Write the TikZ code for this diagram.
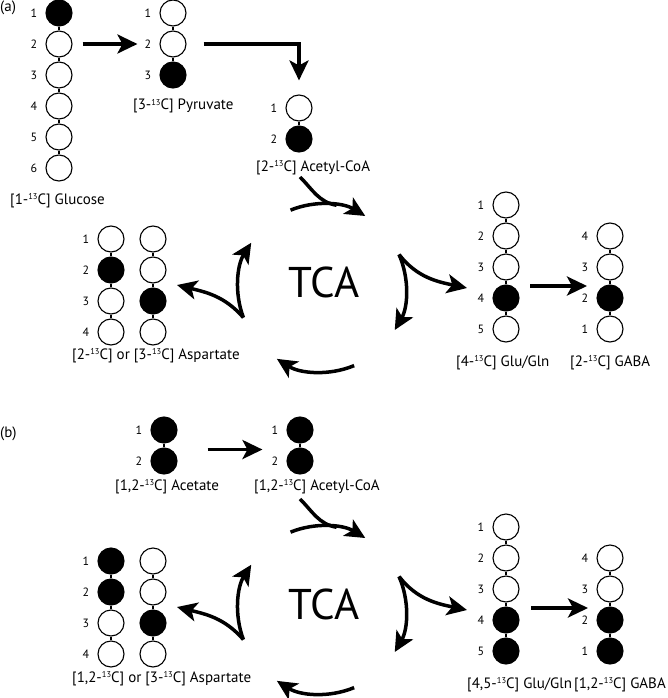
\documentclass[tikz,border=0pt]{standalone}
\usepackage{fontspec}
\setmainfont{PT Sans}
\usetikzlibrary{arrows.meta,calc}
\newcommand\isot{\raisebox{0.62ex}{\fontsize{8.5}{8.5}\selectfont 13}}
\newcommand\tcacycle[2]{%
 \begin{scope}[shift={(322,#2)}, x=1pt, y=1pt]
  \node[tcatext] (#1tca) at (2,6) {TCA};
  \coordinate (#1t0) at (112:84);
  \coordinate (#1t1) at (59:84);
  \coordinate (#1r0) at (23.5:84);
  \coordinate (#1r1) at (-30:84);
  \coordinate (#1b0) at (-67.5:84);
  \coordinate (#1b1) at (-122.5:84);
  \coordinate (#1l0) at (200.6:84);
  \coordinate (#1l1) at (147.4:84);
  \coordinate (#1in) at (-22,111);
  \coordinate (#1j) at (80:84);
  \coordinate (#1rt) at (145,0);
  \coordinate (#1lt) at (-145,3);
  \draw[arr] (#1t0) arc[start angle=112, end angle=59, radius=84];
  \draw[arr] (#1r0) arc[start angle=23.5, end angle=-30, radius=84];
  \draw[arr] (#1b0) arc[start angle=-67.5, end angle=-122.5, radius=84];
  \draw[arr] (#1l0) arc[start angle=200.6, end angle=147.4, radius=84];
  \draw[thick line] (#1in) to[out=-45, in=170] (#1j);
  \draw[arr] (#1r0) to[out=-52, in=168] (#1rt);
  \draw[arr] (#1l0) to[out=131, in=-14] (#1lt);
 \end{scope}}
\begin{document}
\begin{tikzpicture}[x=1pt,y=-1pt,
  atom/.style={circle, draw=black, line width=1.1pt, minimum size=26pt, inner sep=0pt, fill=white},
  full/.style={atom, fill=black},
  num/.style={font=\fontsize{12}{12}\selectfont, inner sep=0pt},
  lab/.style={font=\fontsize{15}{15}\selectfont, anchor=base west, inner sep=0pt},
  tcatext/.style={font=\fontsize{43}{43}\selectfont, inner sep=0pt},
  bond/.style={line width=1.1pt},
  thick line/.style={line width=3.5pt},
  arr/.style={line width=3.5pt, -{Stealth[length=20pt, width=19pt, inset=5pt]}}]
\useasboundingbox (0,0) rectangle (667,698);

% ---------------- panel (a) ----------------
\node[lab] (pa) at (0,12) {(a)};
% glucose
\foreach \i/\y/\s in {1/13/full,2/44/atom,3/75/atom,4/106/atom,5/137/atom,6/168/atom}{
  \node[\s] (g\i) at (59,\y) {};
  \node[num] (gn\i) at (34,\y) {\i};}
\foreach \i/\j in {1/2,2/3,3/4,4/5,5/6} \draw[bond] (g\i) -- (g\j);
\node[lab] (glab) at (10,204) {[1-\isot C] Glucose};
% pyruvate
\foreach \i/\y/\s in {1/13/atom,2/44/atom,3/75/full}{
  \node[\s] (p\i) at (173,\y) {};
  \node[num] (pn\i) at (148,\y) {\i};}
\foreach \i/\j in {1/2,2/3} \draw[bond] (p\i) -- (p\j);
\node[lab] (plab) at (133,110) {[3-\isot C] Pyruvate};
% acetyl-CoA
\foreach \i/\y/\s in {1/108/atom,2/139/full}{
  \node[\s] (ac\i) at (299,\y) {};
  \node[num] (acn\i) at (274,\y) {\i};}
\draw[bond] (ac1) -- (ac2);
\node[lab] (aclab) at (256,171) {[2-\isot C] Acetyl-CoA};
% arrows
\draw[arr] ([xshift=10pt]g2.east) -- ([xshift=-22pt]p2.west);
\draw[arr] ([xshift=17pt]p2.east) -| ([yshift=14pt]ac1.north);
% aspartate
\foreach \i/\y/\s/\t in {1/239/atom/atom,2/270/full/atom,3/301/atom/full,4/332/atom/atom}{
  \node[\s] (asl\i) at (111,\y) {};
  \node[\t] (asr\i) at (153,\y) {};
  \node[num] (asn\i) at (86,\y) {\i};}
\foreach \i/\j in {1/2,2/3,3/4}{\draw[bond] (asl\i) -- (asl\j); \draw[bond] (asr\i) -- (asr\j);}
\node[lab] (aslab) at (72,359) {[2-\isot C] or [3-\isot C] Aspartate};
% glu/gln
\foreach \i/\y/\s in {1/205/atom,2/236/atom,3/267/atom,4/298/full,5/329/atom}{
  \node[\s] (u\i) at (506,\y) {};
  \node[num] (un\i) at (481,\y) {\i};}
\foreach \i/\j in {1/2,2/3,3/4,4/5} \draw[bond] (u\i) -- (u\j);
\node[lab] (ulab) at (456,366) {[4-\isot C] Glu/Gln};
% GABA
\foreach \i/\y/\s in {4/236/atom,3/267/atom,2/298/full,1/329/atom}{
  \node[\s] (ga\i) at (610,\y) {};
  \node[num] (gan\i) at (585,\y) {\i};}
\foreach \i/\j in {4/3,3/2,2/1} \draw[bond] (ga\i) -- (ga\j);
\node[lab] (galab) at (570,366) {[2-\isot C] GABA};
\coordinate (ua0) at (530,286);
\coordinate (ua1) at (587,286);
\draw[arr] (ua0) -- (ua1);
\tcacycle{a}{288}

% ---------------- panel (b) ----------------
\node[lab] (pb) at (0,437) {(b)};
% acetate
\foreach \i/\y in {1/430,2/461}{
  \node[full] (at\i) at (164,\y) {};
  \node[num] (atn\i) at (139,\y) {\i};}
\draw[bond] (at1) -- (at2);
\node[lab] (atlab) at (115,490) {[1,2-\isot C] Acetate};
% acetyl-CoA
\foreach \i/\y in {1/430,2/461}{
  \node[full] (bc\i) at (300,\y) {};
  \node[num] (bcn\i) at (275,\y) {\i};}
\draw[bond] (bc1) -- (bc2);
\node[lab] (bclab) at (254,490) {[1,2-\isot C] Acetyl-CoA};
\draw[arr] ([xshift=30pt]$(at1.east)!0.63!(at2.east)$) -- ([xshift=-24pt]$(bc1.west)!0.63!(bc2.west)$);
% aspartate
\foreach \i/\y/\s/\t in {1/561/full/atom,2/592/full/atom,3/623/atom/full,4/654/atom/atom}{
  \node[\s] (bsl\i) at (111,\y) {};
  \node[\t] (bsr\i) at (153,\y) {};
  \node[num] (bsn\i) at (86,\y) {\i};}
\foreach \i/\j in {1/2,2/3,3/4}{\draw[bond] (bsl\i) -- (bsl\j); \draw[bond] (bsr\i) -- (bsr\j);}
\node[lab] (bslab) at (72,682) {[1,2-\isot C] or [3-\isot C] Aspartate};
% glu/gln
\foreach \i/\y/\s in {1/527/atom,2/558/atom,3/589/atom,4/620/full,5/651/full}{
  \node[\s] (v\i) at (506,\y) {};
  \node[num] (vn\i) at (481,\y) {\i};}
\foreach \i/\j in {1/2,2/3,3/4,4/5} \draw[bond] (v\i) -- (v\j);
\node[lab] (vlab) at (467,688) {[4,5-\isot C] Glu/Gln};
% GABA
\foreach \i/\y/\s in {4/558/atom,3/589/atom,2/620/full,1/651/full}{
  \node[\s] (gb\i) at (610,\y) {};
  \node[num] (gbn\i) at (585,\y) {\i};}
\foreach \i/\j in {4/3,3/2,2/1} \draw[bond] (gb\i) -- (gb\j);
\node[lab] (gblab) at (574,688) {[1,2-\isot C] GABA};
\coordinate (vb0) at (531,608);
\coordinate (vb1) at (588,608);
\draw[arr] (vb0) -- (vb1);
\tcacycle{b}{610}
\end{tikzpicture}
\end{document}
